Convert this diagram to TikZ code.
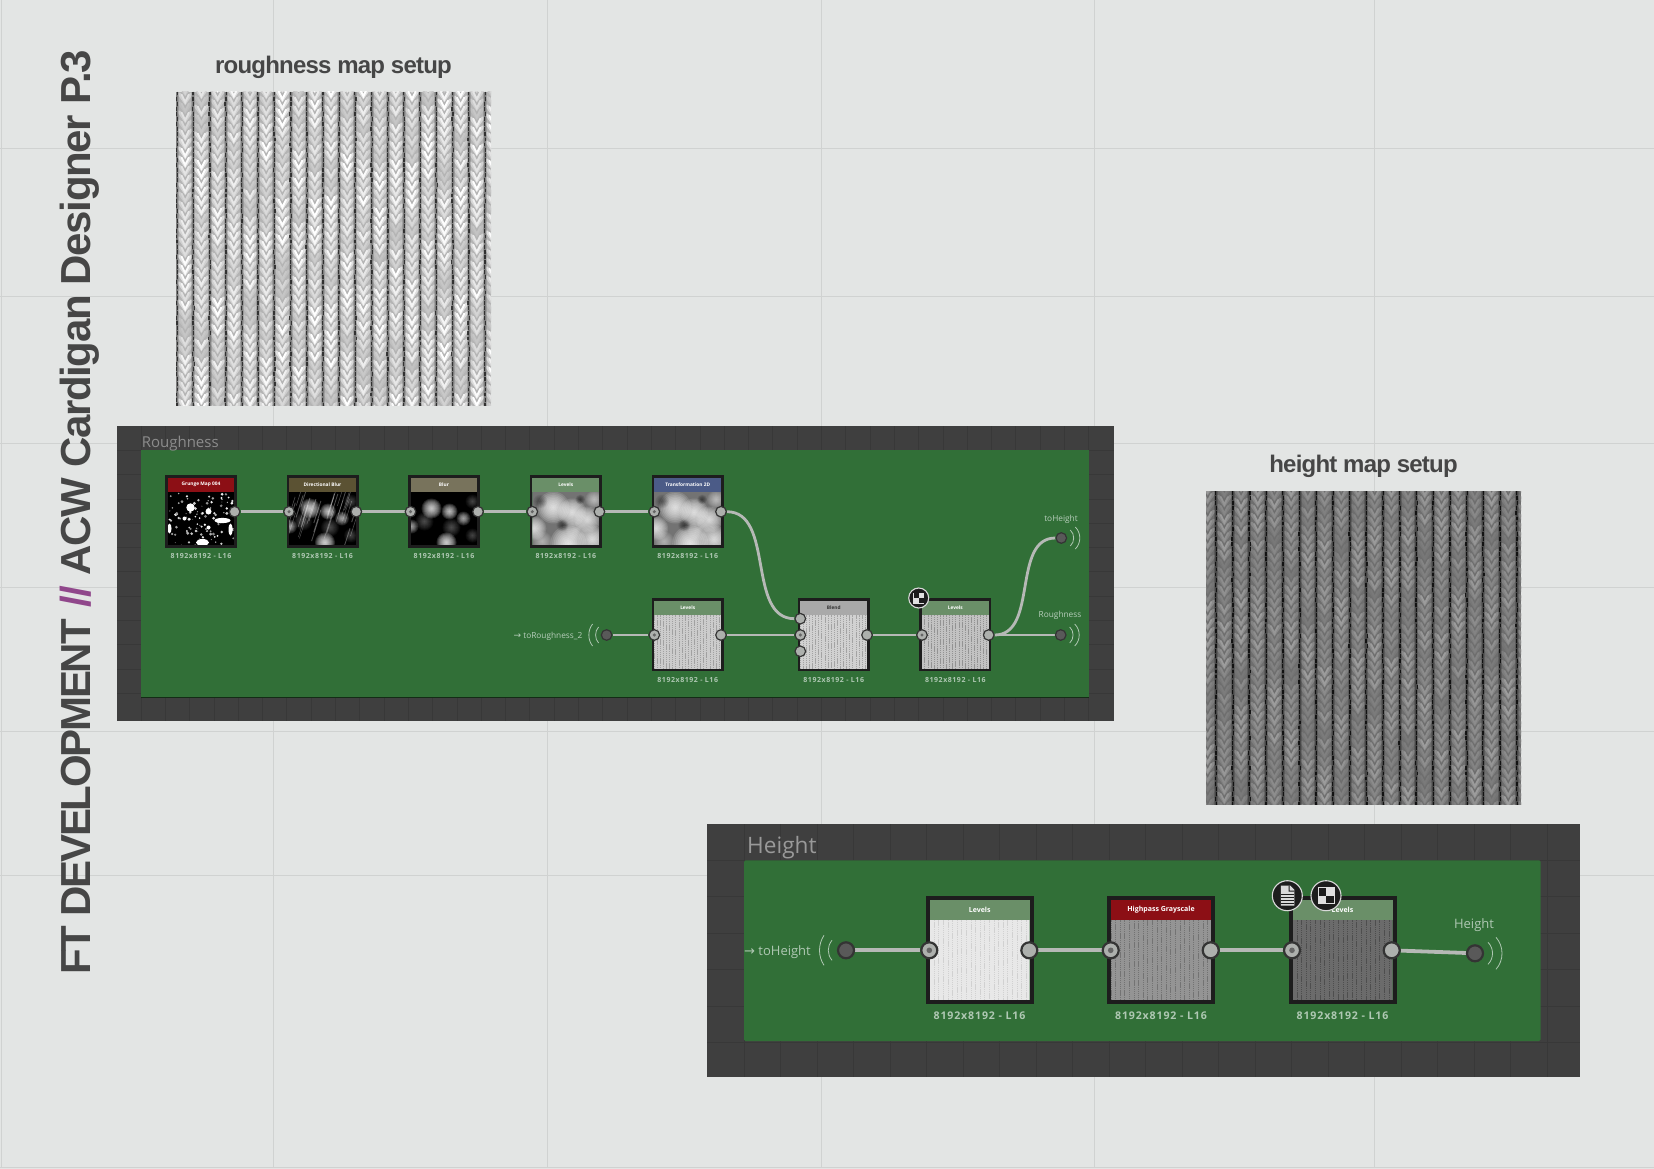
\documentclass[tikz,border=0pt]{standalone}
\usepackage{fontspec}
\setmainfont{Liberation Sans}
\newfontfamily\uifont{Open Sans}
\newfontfamily\lblfont[LetterSpace=8]{Open Sans}
\newfontfamily\titlefont[LetterSpace=-5.4]{Liberation Sans}
\newfontfamily\titlefontb[LetterSpace=-3.3]{Liberation Sans}
\newfontfamily\subfont[LetterSpace=-3.3]{Liberation Sans}
\newfontfamily\dejavu{DejaVu Sans}
\definecolor{bgc}{HTML}{E3E5E4}
\definecolor{gridc}{HTML}{D0D2D1}
\definecolor{panelc}{HTML}{3F3F3F}
\definecolor{panell}{HTML}{383838}
\definecolor{greenc}{HTML}{316F37}
\definecolor{wirec}{HTML}{B6B9B6}
\definecolor{edgec}{HTML}{1D1D1D}
\definecolor{lblc}{HTML}{AFC8B3}
\definecolor{txtc}{HTML}{464646}
\definecolor{slashc}{HTML}{90478B}
\definecolor{hred}{HTML}{8C0F15}
\definecolor{hdir}{HTML}{5B5233}
\definecolor{hblur}{HTML}{78735C}
\definecolor{hlev}{HTML}{6A8F68}
\definecolor{htr}{HTML}{4B5B87}
\definecolor{hbl}{HTML}{A9A9A9}
\definecolor{kra}{HTML}{FFFFFF}
\definecolor{krb}{HTML}{B4B4B4}
\definecolor{krc}{HTML}{262626}
\definecolor{kha}{HTML}{9C9C9C}
\definecolor{khb}{HTML}{6E6E6E}
\definecolor{khc}{HTML}{0A0A0A}
\pgfdeclarelayer{back}\pgfdeclarelayer{wire}
\pgfsetlayers{back,wire,main}
\tikzset{
  wiresmall/.style={draw=wirec,line width=2.8pt},
  wirelarge/.style={draw=wirec,line width=3.8pt},
  portouts/.style={circle,draw=edgec!90,line width=1.2pt,fill=wirec!95!black,minimum size=10.6pt,inner sep=0},
  portins/.style={portouts,path picture={\fill[black!60] (path picture bounding box.center) circle[radius=1.7pt];}},
  termins/.style={portouts,fill=black!65},
  portoutl/.style={circle,draw=edgec!90,line width=2.2pt,fill=wirec!95!black,minimum size=16pt,inner sep=0},
  portinl/.style={portoutl,path picture={\fill[black!60] (path picture bounding box.center) circle[radius=2.8pt];}},
  terminl/.style={portoutl,fill=black!65},
  boxs/.style={draw=edgec,line width=2.6pt,minimum width=69.4pt,minimum height=70.4pt,inner sep=0},
  boxl/.style={draw=edgec,line width=4pt,minimum width=104pt,minimum height=104pt,inner sep=0},
  hdrs/.style={minimum width=67pt,minimum height=14pt,inner sep=0,text=white,font=\uifont\bfseries\fontsize{4.8}{6}\selectfont},
  hdrl/.style={minimum width=100pt,minimum height=20pt,inner sep=0,text=white,font=\uifont\bfseries\fontsize{7}{8}\selectfont},
  lbls/.style={text=lblc,inner sep=0,font=\lblfont\bfseries\fontsize{7}{8}\selectfont},
  lbll/.style={text=lblc,inner sep=0,font=\lblfont\bfseries\fontsize{10.6}{12}\selectfont},
  capts/.style={text=lblc!90!white,inner sep=0,font=\uifont\fontsize{8.3}{10}\selectfont},
  captl/.style={text=lblc,inner sep=0,font=\uifont\fontsize{13}{15}\selectfont},
  wavec/.style={draw=lblc,line width=.8pt},
  subtitle/.style={text=txtc,inner sep=0,font=\subfont\bfseries\fontsize{24}{30}\selectfont},
  ringb/.style={circle,draw=white!85!black,line width=1.1pt,fill=edgec,inner sep=0},
}
% blurred blob
\newcommand{\blb}[5]{\foreach \kk in {1,...,10}{\fill[#5,opacity=#4*.6] (#1,#2) circle[radius={#3*\kk/10*1pt}];}}
\newcommand{\blurblobs}{%
  \blb{21}{17}{10}{.22}{white}\blb{39}{20}{8}{.2}{white}\blb{53}{27}{7}{.16}{white}
  \blb{36}{51}{10}{.24}{white}\blb{1}{35}{7}{.15}{white}\blb{41}{36}{9}{.06}{white}
  \blb{14}{30}{9}{.06}{white}\blb{62}{10}{7}{.05}{white}\blb{62}{44}{7}{.05}{white}
}
\newcommand{\levimg}{%
  \fill[black!55] (0,0) rectangle (70,56);
  \blb{21}{16}{16}{.22}{white}\blb{40}{21}{14}{.22}{white}\blb{55}{28}{13}{.2}{white}
  \blb{36}{52}{18}{.24}{white}\blb{2}{37}{12}{.2}{white}\blb{44}{38}{11}{.1}{white}
  \blb{10}{50}{10}{.1}{white}\blb{60}{48}{14}{.2}{white}\blb{62}{8}{9}{.12}{white}
  \blb{30}{34}{6}{.1}{black}\blb{8}{10}{7}{.08}{black}\blb{48}{8}{5}{.1}{black}
}
\newcommand{\stripes}[7]{% w h bg linecolor spacing opacity seed
  \fill[#3] (0,0) rectangle (#1,#2);
  \pgfmathsetseed{#7}
  \foreach \sx in {0,#5,...,#1}{
    \pgfmathsetmacro\sa{rnd*3}
    \draw[#4,line width=.9pt,opacity=#6,dash pattern=on 1.2pt off .7pt,dash phase=\sa pt] (\sx,0) -- (\sx,#2);
  }
}
% small node: name x y headercolor title titlecolor imagecode
\newcommand{\smallnd}[7]{%
  \begin{scope}[shift={(#2+2.5,#3+16.5)}]\clip (0,0) rectangle (67,54);#7\end{scope}
  \node[hdrs,fill=#4,text=#6] (#1h) at (#2+36,#3+9.5) {\raisebox{-.8pt}{#5}};
  \node[boxs] (#1) at (#2+36,#3+36.5) {};
}
\newcommand{\largend}[7]{%
  \begin{scope}[shift={(#2+4,#3+24)}]\clip (0,0) rectangle (100,80);#7\end{scope}
  \node[hdrl,fill=#4,text=#6] (#1h) at (#2+54,#3+14) {\raisebox{-1.4pt}{#5}};
  \node[boxl] (#1) at (#2+54,#3+54) {};
}
\newcommand{\knittex}[8]{%
  \begin{scope}[shift={(#1,#2)}]
    \clip (0,0) rectangle (315,313.5);
    \fill[#6] (0,0) rectangle (315,315);
    \pgfmathsetseed{#8}
    \foreach \c in {-1,...,20}{
      \pgfmathsetmacro\xb{#3+\c*#4}
      \pgfmathsetmacro\xc{\xb+#4/2}
      \pgfmathsetmacro\ph{rnd*360}
      \foreach \r in {0,...,36}{
        \pgfmathsetmacro\yy{\r*9-6+mod(\c,2)*3}
        \pgfmathsetmacro\vv{min(100,max(15,68+20*sin(\yy*3.1+\ph)+60*rnd-30))}
        \pgfmathsetmacro\vw{\vv*.6}
        \draw[draw=#5!\vw!#6,line width=3pt,line cap=round] (\xc-6.2,\yy-7) -- (\xc,\yy+2) -- (\xc+6.2,\yy-7);
        \draw[draw=#5!\vv!#6,line width=1.9pt,line cap=round] (\xc-3.6,\yy-6) -- (\xc,\yy+1.5) -- (\xc+3.6,\yy-6);
      }
      \draw[#7,line width=4pt,opacity=.18] (\xb,0) -- (\xb,315);
      \draw[#7,line width=2pt,opacity=.25] (\xb,0) -- (\xb,315);
      \foreach \s in {0,...,62}{
        \pgfmathsetmacro\jx{\xb+1.2*rnd-.6}
        \pgfmathsetmacro\jw{.5+1.1*rnd}
        \draw[#7,line width=\jw pt,opacity=.85] (\jx,\s*5.1) -- (\jx,\s*5.1+3.8);
      }
    }
  \end{scope}
}
\begin{document}
\begin{tikzpicture}[x=1pt,y=-1pt]
\useasboundingbox (0,0) rectangle (1654,1169);
\begin{pgfonlayer}{back}
\fill[bgc] (0,0) rectangle (1654,1169);
\foreach \gx in {1.5,273.7,547.7,821.5,1094.5,1374}{\draw[gridc,line width=1pt] (\gx,0) -- (\gx,1167);}
\foreach \gy in {149,296.5,443.3,587.5,731.3,875,1167.5}{\draw[gridc,line width=1pt] (0,\gy) -- (1654,\gy);}
% roughness panel
\fill[panelc] (117,426) rectangle (1114,721);
\foreach \k in {0,...,39}{\draw[panell,line width=.8pt] (141+\k*24.3,426) -- (141+\k*24.3,721);}
\foreach \k in {1,...,11}{\draw[panell,line width=.8pt] (117,426+\k*24.3) -- (1114,426+\k*24.3);}
\fill[greenc] (140.8,450) rectangle (1089,697);
\draw[black!60!greenc,line width=.6pt] (140.8,697) -- (1089,697);
% height panel
\fill[panelc] (707,824) rectangle (1580,1077);
\foreach \k in {0,...,22}{\draw[panell,line width=.9pt] (744+\k*36.5,824) -- (744+\k*36.5,1077);}
\foreach \k in {0,...,5}{\draw[panell,line width=.9pt] (707,860+\k*36.5) -- (1580,860+\k*36.5);}
\fill[greenc,rounded corners=1.5pt] (744,860.3) rectangle (1540.7,1041);
\end{pgfonlayer}
% page titles
\node[anchor=base west,rotate=90,inner sep=0,text=txtc,font=\bfseries\fontsize{42}{50}\selectfont] (maintitle) at (90,975) {{\titlefont\bfseries FT DEVELOPMENT} {\titlefontb\bfseries{\color{slashc}//} ACW Cardigan Designer P.3}};
\node[subtitle,anchor=base] (t1) at (333.5,73.3) {roughness map setup};
\node[subtitle,anchor=base] (t2) at (1363.5,472) {height map setup};
\knittex{176}{91.7}{17.3}{16.2}{kra}{krb}{krc}{11}
\knittex{1206}{491}{10}{16.7}{kha}{khb}{khc}{23}
\node[anchor=base west,inner sep=0,text=black!45,font=\uifont\fontsize{15}{18}\selectfont] (rt) at (141.6,447.5) {Roughness};
\node[anchor=base west,inner sep=0,text=black!40,font=\uifont\fontsize{22.6}{26}\selectfont] (ht) at (747,853.5) {Height};
% roughness nodes, row 1
\smallnd{a}{165}{475}{hred}{Grunge Map 004}{white}{%
  \fill[black] (0,0) rectangle (70,56);
  \pgfmathsetseed{5}
  \foreach \i in {1,...,110}{\pgfmathsetmacro\gv{50+50*rnd}\fill[white!\gv!black] (rnd*68,rnd*55) circle[radius={.4+1.2*rnd}];}
  \fill[white] (23,16) circle[radius=4.2pt];\fill[white] (41,20) circle[radius=3pt];
  \fill[white] (55,29) ellipse[x radius=8pt,y radius=2.6pt];\fill[white] (35,51) ellipse[x radius=6.5pt,y radius=3.5pt];
  \fill[white] (17,27) circle[radius=2pt];\fill[white] (2,37) ellipse[x radius=2pt,y radius=5pt];
  \fill[white] (41,36) circle[radius=2pt];\fill[white] (63,38) ellipse[x radius=2pt,y radius=6pt];
}
\smallnd{b}{286.5}{475}{hdir}{Directional Blur}{white}{%
  \fill[black] (0,0) rectangle (70,56);
  \blurblobs
  \pgfmathsetseed{8}
  \foreach \i in {1,...,34}{\pgfmathsetmacro\sxx{rnd*80-8}\pgfmathsetmacro\syy{rnd*45+14}\draw[white,line width={.4+.7*rnd},opacity=.3] (\sxx,\syy) -- (\sxx+7,\syy-22);}
}
\smallnd{c}{408}{475}{hblur}{Blur}{white}{\fill[black] (0,0) rectangle (70,56);\blurblobs}
\smallnd{d}{529.8}{475}{hlev}{Levels}{white}{\levimg}
\smallnd{e}{651.7}{475}{htr}{Transformation 2D}{white}{\levimg}
% roughness nodes, row 2
\smallnd{f}{651.7}{598.3}{hlev}{Levels}{white}{\stripes{67}{54}{black!20}{black!48}{3.1}{.6}{3}}
\smallnd{g}{797.7}{598.3}{hbl}{Blend}{black!80}{\stripes{67}{54}{black!18}{black!48}{3.1}{.6}{4}}
\smallnd{h}{919.3}{598.3}{hlev}{Levels}{white}{\stripes{67}{54}{black!24}{black!50}{3.1}{.7}{6}}
\foreach \n/\cx/\cy in {a/201/556,b/322.5/556,c/444/556,d/565.8/556,e/687.7/556,f/687.7/680,g/833.7/680,h/955.3/680}{
  \node[lbls] (\n l) at (\cx,\cy) {8192x8192 - L16};
}
% ports
\node[portouts] (ao) at (234.6,511.7) {};
\node[portins] (bi) at (289,511.7) {};\node[portouts] (bo) at (356.3,511.7) {};
\node[portins] (ci) at (410.5,511.7) {};\node[portouts] (co) at (478,511.7) {};
\node[portins] (di) at (532.3,511.7) {};\node[portouts] (do) at (599.4,511.7) {};
\node[portins] (ei) at (654.3,511.7) {};\node[portouts] (eo) at (721,511.7) {};
\node[termins] (in1) at (606.6,635) {};
\node[portins] (fi) at (654.3,635) {};\node[portouts] (fo) at (721,635) {};
\node[portouts] (g1) at (800.3,618.7) {};\node[portins] (g2) at (800.3,635) {};\node[portouts] (g3) at (800.3,651.3) {};
\node[portouts] (go) at (867,635) {};
\node[portins] (hi) at (922,635) {};\node[portouts] (ho) at (988.7,635) {};
\node[termins] (o1) at (1061.3,538) {};
\node[termins] (o2) at (1060.7,635) {};
\begin{pgfonlayer}{wire}
\draw[wiresmall] (ao) -- (bi);\draw[wiresmall] (bo) -- (ci);\draw[wiresmall] (co) -- (di);\draw[wiresmall] (do) -- (ei);
\draw[wiresmall] (in1) -- (fi);\draw[wiresmall] (fo) -- (g2);\draw[wiresmall] (go) -- (hi);
\draw[wiresmall] (eo.east) .. controls +(48,0) and +(-48,0) .. (g1.west);
\draw[wiresmall] (ho.east) .. controls +(44,0) and +(-44,0) .. (o1.west);
\draw[wiresmall] (ho) -- (o2);
\end{pgfonlayer}
\node[capts,anchor=east] (c1) at (582.5,636.5) {{\dejavu\fontsize{9}{8}\selectfont→} toRoughness\_2};
\node[capts] (c2) at (1061,519) {toHeight};
\node[capts] (c3) at (1060,615.7) {Roughness};
\draw[wavec] ([shift={(-14,-11)}]in1.center) .. controls ([shift={(-19,-5)}]in1.center) and ([shift={(-19,5)}]in1.center) .. ([shift={(-14,11)}]in1.center);
\draw[wavec] ([shift={(-8,-8)}]in1.center) .. controls ([shift={(-12,-4)}]in1.center) and ([shift={(-12,4)}]in1.center) .. ([shift={(-8,8)}]in1.center);
\foreach \tn in {o1,o2}{
\draw[wavec] ([shift={(14,-11)}]\tn.center) .. controls ([shift={(20,-5)}]\tn.center) and ([shift={(20,5)}]\tn.center) .. ([shift={(14,11)}]\tn.center);
\draw[wavec] ([shift={(9,-8)}]\tn.center) .. controls ([shift={(13.5,-4)}]\tn.center) and ([shift={(13.5,4)}]\tn.center) .. ([shift={(9,8)}]\tn.center);
}
% checker badge small
\node[ringb,minimum size=20pt] (bd1) at (918.7,598) {};
\fill[white!88!black] ([shift={(-5.5,-5.5)}]bd1.center) rectangle ([shift={(5.5,5.5)}]bd1.center);
\fill[edgec] ([shift={(-4.8,-4.8)}]bd1.center) rectangle (bd1.center);
\fill[edgec] (bd1.center) rectangle ([shift={(4.8,4.8)}]bd1.center);
% height nodes
\largend{p}{925.7}{896}{hlev}{Levels}{white}{\stripes{100}{80}{black!9}{black!24}{4.6}{.6}{7}}
\largend{q}{1107}{896}{hred}{Highpass Grayscale}{white}{\stripes{100}{80}{black!42}{black!58}{4.6}{.8}{9}}
\largend{r}{1288.5}{896}{hlev}{Levels}{white}{\stripes{100}{80}{black!58}{black!72}{4.6}{.8}{10}}
\foreach \n/\cx in {p/979.5,q/1161,r/1342.5}{\node[lbll] (\n l) at (\cx,1016) {8192x8192 - L16};}
\node[terminl] (in2) at (846,950.3) {};
\node[portinl] (pi) at (929.3,950.3) {};\node[portoutl] (po) at (1029.3,950.3) {};
\node[portinl] (qi) at (1110.7,950.3) {};\node[portoutl] (qo) at (1210.7,950.3) {};
\node[portinl] (ri) at (1292,950.3) {};\node[portoutl] (ro) at (1391.7,950.3) {};
\node[terminl] (o3) at (1475,953.3) {};
\begin{pgfonlayer}{wire}
\draw[wirelarge] (in2) -- (pi);\draw[wirelarge] (po) -- (qi);\draw[wirelarge] (qo) -- (ri);\draw[wirelarge] (ro) -- (o3);
\end{pgfonlayer}
\node[captl,anchor=west] (c4) at (744,952) {{\dejavu\fontsize{13}{10}\selectfont→} toHeight};
\node[captl] (c5) at (1474,925) {Height};
\draw[wavec] ([shift={(-22,-15)}]in2.center) .. controls ([shift={(-28,-6)}]in2.center) and ([shift={(-28,6)}]in2.center) .. ([shift={(-22,15)}]in2.center);
\draw[wavec] ([shift={(-14,-10)}]in2.center) .. controls ([shift={(-19,-4)}]in2.center) and ([shift={(-19,4)}]in2.center) .. ([shift={(-14,10)}]in2.center);
\draw[wavec] ([shift={(21,-16)}]o3.center) .. controls ([shift={(29,-7)}]o3.center) and ([shift={(29,7)}]o3.center) .. ([shift={(21,16)}]o3.center);
\draw[wavec] ([shift={(13,-11)}]o3.center) .. controls ([shift={(19,-5)}]o3.center) and ([shift={(19,5)}]o3.center) .. ([shift={(13,11)}]o3.center);
% badges on last height node
\node[ringb,minimum size=30pt] (bd2) at (1287.3,895.7) {};
\node[ringb,minimum size=30pt] (bd3) at (1326,895.7) {};
\fill[white!88!black] ([shift={(-8.5,-8.5)}]bd3.center) rectangle ([shift={(8.5,8.5)}]bd3.center);
\fill[edgec] ([shift={(-7.5,-7.5)}]bd3.center) rectangle (bd3.center);
\fill[edgec] (bd3.center) rectangle ([shift={(7.5,7.5)}]bd3.center);
\fill[white!85!black] ([shift={(-6.5,-10)}]bd2.center) -- ([shift={(3,-10)}]bd2.center) -- ([shift={(7,-6)}]bd2.center) -- ([shift={(7,10)}]bd2.center) -- ([shift={(-6.5,10)}]bd2.center) -- cycle;
\fill[edgec] ([shift={(2.2,-10)}]bd2.center) -- ([shift={(2.2,-5.2)}]bd2.center) -- ([shift={(7,-5.2)}]bd2.center) -- ([shift={(7,-4.2)}]bd2.center) -- ([shift={(1.2,-4.2)}]bd2.center) -- ([shift={(1.2,-10)}]bd2.center) -- cycle;
\foreach \ly in {-1.5,1.5,4.5,7.5}{\draw[edgec,line width=.9pt] ([shift={(-6.5,\ly)}]bd2.center) -- ([shift={(7,\ly)}]bd2.center);}
\end{tikzpicture}
\end{document}
